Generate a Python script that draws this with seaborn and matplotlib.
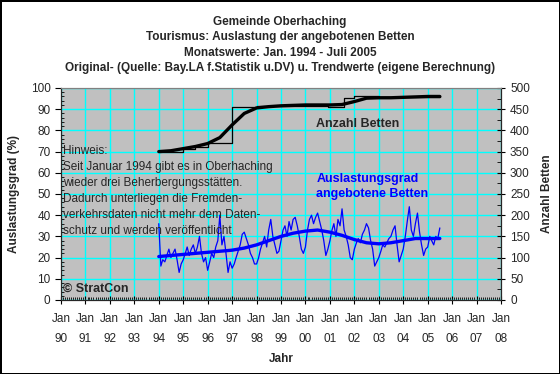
import pandas as pd
import seaborn as sns
import matplotlib.pyplot as plt
import matplotlib.dates as mdates
from matplotlib.ticker import MultipleLocator

# monthly occupancy (%) Jan 1994 - Jul 2005
occ_1994 = [36, 16, 19, 18, 21, 24, 20, 22, 24, 19, 13, 17]
occ_1995 = [19, 22, 25, 21, 24, 26, 22, 25, 30, 22, 18, 20]
occ_1996 = [14, 18, 22, 20, 25, 28, 40, 26, 30, 22, 13, 18]
occ_1997 = [15, 17, 20, 23, 26, 31, 32, 29, 26, 22, 20, 17]
occ_1998 = [17, 20, 24, 27, 30, 25, 33, 38, 30, 26, 22, 23]
occ_1999 = [28, 33, 35, 30, 37, 33, 38, 39, 35, 30, 24, 22]
occ_2000 = [25, 33, 38, 40, 36, 39, 41, 37, 33, 28, 21, 24]
occ_2001 = [28, 33, 36, 30, 38, 35, 43, 33, 30, 26, 20, 19]
occ_2002 = [24, 27, 29, 27, 31, 33, 36, 34, 28, 24, 16, 18]
occ_2003 = [20, 23, 26, 25, 27, 29, 30, 33, 35, 26, 18, 21]
occ_2004 = [24, 30, 37, 44, 33, 30, 36, 41, 32, 26, 21, 24]
occ_2005 = [25, 30, 28, 26, 30, 29, 34]
occupancy = (occ_1994 + occ_1995 + occ_1996 + occ_1997 + occ_1998 + occ_1999
             + occ_2000 + occ_2001 + occ_2002 + occ_2003 + occ_2004 + occ_2005)

# occupancy trend, every half year
occ_trend = [20.5, 21, 21.5, 22, 22.5, 23, 23.5, 24.5, 26, 28, 30, 31.5,
             32.5, 33, 32, 30.5, 28.5, 27, 26.5, 27, 28, 29, 29, 29]

# beds (original, step changes) and trend
bed_dates = ["1994-01", "1995-01", "1995-07", "1996-01", "1997-01", "1998-01",
             "2000-12", "2001-08", "2002-01", "2003-01", "2005-07"]
bed_counts = [350, 356, 362, 370, 455, 458, 455, 476, 480, 478, 480]
bed_trend = [350, 352, 357, 362, 369, 383, 413, 440, 453, 456, 458, 459,
             460, 460, 460, 461, 468, 476, 477, 477, 478, 479, 480, 480]

titles = ["Gemeinde Oberhaching",
          "Tourismus: Auslastung der angebotenen Betten",
          "Monatswerte: Jan. 1994 - Juli 2005",
          "Original- (Quelle: Bay.LA f.Statistik u.DV) u. Trendwerte (eigene Berechnung)"]
note = ["Hinweis:",
        "Seit Januar 1994 gibt es in Oberhaching",
        "wieder drei Beherbergungsstätten.",
        "Dadurch unterliegen die Fremden-",
        "verkehrsdaten nicht mehr dem Daten-",
        "schutz und werden veröffentlicht"]

occ_df = pd.DataFrame({"date": pd.date_range("1994-01-01", periods=len(occupancy), freq="MS"),
                       "value": occupancy})
trend_dates = pd.date_range("1994-01-01", periods=len(occ_trend), freq="6MS")
occ_trend_df = pd.DataFrame({"date": trend_dates, "value": occ_trend})
bed_df = pd.DataFrame({"date": pd.to_datetime(bed_dates), "value": bed_counts})
bed_trend_df = pd.DataFrame({"date": trend_dates, "value": bed_trend})

sns.set_style("ticks")
plt.rcParams["font.family"] = ["Liberation Sans", "DejaVu Sans"]
plt.rcParams["font.size"] = 8.5

W, H = 560, 374
fig = plt.figure(figsize=(W / 100, H / 100), dpi=100, facecolor="white",
                 edgecolor="black", linewidth=2)
ax = fig.add_axes([61 / W, 1 - 300 / H, 440 / W, 212 / H])
ax.set_facecolor("#C0C0C0")

sns.lineplot(data=occ_df, x="date", y="value", ax=ax, color="#0000FF", lw=0.9)
sns.lineplot(data=occ_trend_df, x="date", y="value", ax=ax, color="#0000FF", lw=2.4)

ax.set_xlim(pd.Timestamp("1990-01-01"), pd.Timestamp("2008-01-01"))
ax.set_ylim(0, 100)
ax.yaxis.set_major_locator(MultipleLocator(10))
ax.yaxis.set_minor_locator(MultipleLocator(2))
ax.xaxis.set_major_locator(mdates.YearLocator())
ax.xaxis.set_minor_locator(mdates.MonthLocator())
ax.xaxis.set_major_formatter(mdates.DateFormatter("%b\n%y"))
ax.grid(True, which="major", color="#00FFFF", lw=1)
ax.set_axisbelow(True)
ax.tick_params(axis="x", which="major", direction="inout", length=6, color="black", pad=6)
ax.tick_params(axis="x", which="minor", direction="in", length=2, color="black")
ax.tick_params(axis="y", which="major", direction="out", length=4, color="black")
ax.tick_params(axis="y", which="minor", direction="in", length=2, color="black")
for lbl in ax.get_xticklabels():
    lbl.set_linespacing(1.9)
ax.set_xlabel("Jahr", fontweight="bold", labelpad=6)
ax.set_ylabel("Auslastungsgrad (%)", fontweight="bold", labelpad=8)
for side in ["left", "bottom", "right"]:
    ax.spines[side].set_color("black")
ax.spines["top"].set_color("#808080")

ax2 = ax.twinx()
sns.lineplot(data=bed_df, x="date", y="value", ax=ax2, color="black", lw=0.9,
             drawstyle="steps-post")
sns.lineplot(data=bed_trend_df, x="date", y="value", ax=ax2, color="black", lw=2.4)
ax2.set_ylim(0, 500)
ax2.yaxis.set_major_locator(MultipleLocator(50))
ax2.yaxis.set_minor_locator(MultipleLocator(25))
ax2.tick_params(axis="y", which="major", direction="inout", length=6, color="black")
ax2.tick_params(axis="y", which="minor", direction="in", length=3, color="black")
ax2.set_ylabel("Anzahl Betten", fontweight="bold", labelpad=8)
ax2.set_xlabel("")
ax2.spines["top"].set_color("#808080")

for i, t in enumerate(titles):
    fig.text(0.5, 1 - (22 + 15.4 * i) / H, t, ha="center", va="center", fontweight="bold")

ax.text(0.58, 0.83, "Anzahl Betten", transform=ax.transAxes, fontweight="bold",
        va="center", ha="left", fontsize=9)
ax.text(0.58, 0.535, "Auslastungsgrad\nangebotene Betten", transform=ax.transAxes,
        fontweight="bold", va="center", ha="left", color="#0000FF", fontsize=9,
        linespacing=1.3)
ax.text(0.005, 0.515, "\n".join(note), transform=ax.transAxes, va="center",
        ha="left", fontsize=8.5, linespacing=1.45)
ax.text(0.005, 0.055, "© StratCon", transform=ax.transAxes, va="center",
        ha="left", fontweight="bold", fontsize=9)

fig.savefig("out.png", dpi=100, facecolor=fig.get_facecolor(), edgecolor=fig.get_edgecolor())
